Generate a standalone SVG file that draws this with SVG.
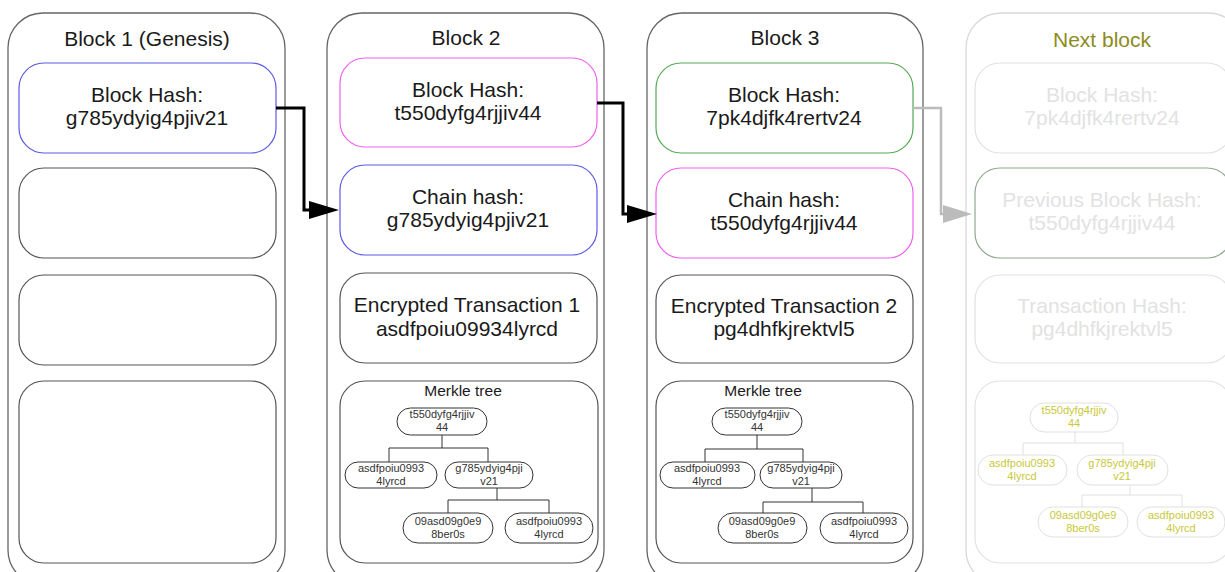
<svg xmlns="http://www.w3.org/2000/svg" width="1225" height="572" viewBox="0 0 1225 572">
<defs>
<style>
text{font-family:"Liberation Sans",Arial,sans-serif;text-anchor:middle;fill:#1a1a1a}
.outer{fill:#fff;stroke:#666;stroke-width:1.3}
.box{fill:#fff;stroke:#555;stroke-width:1.2}
.t{font-size:21px}
.et{font-size:21px}
.mt{font-size:15.5px}
.n{font-size:11px;fill:#333}
.node{fill:#fff;stroke:#333;stroke-width:1}
.tl{fill:none;stroke:#333;stroke-width:1}
.blue{stroke:#5a5ae6}
.mag{stroke:#f060f0}
.green{stroke:#55aa55}
.g-outer{fill:#fff;stroke:#d9d9d9;stroke-width:1.3}
.g-box{fill:#fff;stroke:#e2e2e2;stroke-width:1.2}
.g-t{fill:#e2e2e2}
.g-node{fill:#fff;stroke:#e0e0e0;stroke-width:1}
.g-tl{fill:none;stroke:#e0e0e0;stroke-width:1}
.y{font-size:11px;fill:#c8c83a}
.conn{fill:none;stroke:#000;stroke-width:3}
.conn-g{fill:none;stroke:#bbb;stroke-width:2.5}
</style>
<marker id="ah" markerUnits="userSpaceOnUse" markerWidth="32" markerHeight="20" refX="0" refY="9" orient="auto"><path d="M0,0 L30,9 L0,18 z" fill="#000"/></marker>
<marker id="ahg" markerUnits="userSpaceOnUse" markerWidth="32" markerHeight="20" refX="0" refY="9" orient="auto"><path d="M0,0 L29,9 L0,18 z" fill="#bbb"/></marker>
</defs>
<rect width="1225" height="572" fill="#fff"/>

<g id="block1">
<rect class="outer" x="8" y="13" width="277" height="572" rx="35"/>
<text class="t" x="147" y="46">Block 1 (Genesis)</text>
<g id="b1-hash"><rect class="box blue" x="19" y="63" width="257" height="90" rx="25"/>
<text class="t" x="147" y="102">Block Hash:</text><text class="t" x="147" y="125">g785ydyig4pjiv21</text></g>
<rect class="box" x="19" y="168" width="257" height="90" rx="25"/>
<rect class="box" x="19" y="275" width="257" height="90" rx="25"/>
<rect class="box" x="19" y="381" width="257" height="182" rx="25"/>
</g>

<g id="block2">
<rect class="outer" x="327" y="13" width="277" height="572" rx="35"/>
<text class="t" x="466" y="45">Block 2</text>
<g id="b2-hash"><rect class="box mag" x="340" y="58" width="257" height="89" rx="25"/>
<text class="t" x="468" y="97">Block Hash:</text><text class="t" x="468" y="120">t550dyfg4rjjiv44</text></g>
<g id="b2-chain"><rect class="box blue" x="340" y="165" width="257" height="90" rx="25"/>
<text class="t" x="468" y="204">Chain hash:</text><text class="t" x="468" y="227">g785ydyig4pjiv21</text></g>
<g id="b2-tx"><rect class="box" x="340" y="273" width="257" height="90" rx="25"/>
<text class="et" x="467" y="312">Encrypted Transaction 1</text><text class="et" x="467" y="336">asdfpoiu09934lyrcd</text></g>
<g id="b2-merkle"><rect class="box" x="340" y="381" width="258" height="182" rx="25"/>
<text class="mt" x="463" y="396">Merkle tree</text>
<path class="tl" d="M442,435 V448 M389,448 H488 M389,448 V462 M488,448 V462 M497,488 V500 M448,500 H549 M448,500 V513 M549,500 V513"/>
<rect class="node" x="397" y="408" width="90" height="27" rx="13.5"/>
<text class="n" x="442" y="418">t550dyfg4rjjiv</text><text class="n" x="442" y="431">44</text>
<rect class="node" x="345" y="462" width="92" height="26" rx="13"/>
<text class="n" x="391" y="472">asdfpoiu0993</text><text class="n" x="391" y="485">4lyrcd</text>
<rect class="node" x="445" y="462" width="88" height="26" rx="13"/>
<text class="n" x="489" y="472">g785ydyig4pji</text><text class="n" x="489" y="485">v21</text>
<rect class="node" x="403" y="513" width="90" height="30" rx="15"/>
<text class="n" x="448" y="525">09asd09g0e9</text><text class="n" x="448" y="538">8ber0s</text>
<rect class="node" x="505" y="513" width="88" height="30" rx="15"/>
<text class="n" x="549" y="525">asdfpoiu0993</text><text class="n" x="549" y="538">4lyrcd</text>
</g>
</g>

<g id="block3">
<rect class="outer" x="647" y="13" width="276" height="572" rx="35"/>
<text class="t" x="785" y="45">Block 3</text>
<g id="b3-hash"><rect class="box green" x="656" y="63" width="257" height="90" rx="25"/>
<text class="t" x="784" y="102">Block Hash:</text><text class="t" x="784" y="125">7pk4djfk4rertv24</text></g>
<g id="b3-chain"><rect class="box mag" x="656" y="168" width="257" height="90" rx="25"/>
<text class="t" x="784" y="207">Chain hash:</text><text class="t" x="784" y="230">t550dyfg4rjjiv44</text></g>
<g id="b3-tx"><rect class="box" x="656" y="275" width="257" height="88" rx="25"/>
<text class="et" x="784" y="313">Encrypted Transaction 2</text><text class="et" x="784" y="336">pg4dhfkjrektvl5</text></g>
<g id="b3-merkle"><rect class="box" x="656" y="381" width="257" height="182" rx="25"/>
<text class="mt" x="763" y="396">Merkle tree</text>
<path class="tl" d="M757,435 V449 M705,449 H803 M705,449 V462 M803,449 V462 M812,488 V502 M763,502 H863 M763,502 V513 M863,502 V513"/>
<rect class="node" x="712" y="408" width="90" height="27" rx="13.5"/>
<text class="n" x="757" y="418">t550dyfg4rjjiv</text><text class="n" x="757" y="431">44</text>
<rect class="node" x="660" y="462" width="95" height="26" rx="13"/>
<text class="n" x="707" y="472">asdfpoiu0993</text><text class="n" x="707" y="485">4lyrcd</text>
<rect class="node" x="760" y="462" width="82" height="26" rx="13"/>
<text class="n" x="801" y="472">g785ydyig4pji</text><text class="n" x="801" y="485">v21</text>
<rect class="node" x="718" y="513" width="89" height="30" rx="15"/>
<text class="n" x="762" y="525">09asd09g0e9</text><text class="n" x="762" y="538">8ber0s</text>
<rect class="node" x="820" y="513" width="88" height="30" rx="15"/>
<text class="n" x="864" y="525">asdfpoiu0993</text><text class="n" x="864" y="538">4lyrcd</text>
</g>
</g>

<g id="next-block">
<rect class="g-outer" x="966" y="13" width="277" height="572" rx="35"/>
<text class="t" x="1102" y="47" style="fill:#8c8c1e">Next block</text>
<g id="nb-hash"><rect class="g-box" x="975" y="63" width="257" height="90" rx="25"/>
<text class="t g-t" x="1102" y="102">Block Hash:</text><text class="t g-t" x="1102" y="125">7pk4djfk4rertv24</text></g>
<g id="nb-prev"><rect class="g-box" style="stroke:#8fa88f" x="975" y="168" width="257" height="90" rx="25"/>
<text class="t g-t" x="1102" y="207">Previous Block Hash:</text><text class="t g-t" x="1102" y="230">t550dyfg4rjjiv44</text></g>
<g id="nb-tx"><rect class="g-box" x="975" y="275" width="257" height="88" rx="25"/>
<text class="t g-t" x="1102" y="313">Transaction Hash:</text><text class="t g-t" x="1102" y="336">pg4dhfkjrektvl5</text></g>
<g id="nb-merkle"><rect class="g-box" x="975" y="381" width="257" height="182" rx="25"/>
<path class="g-tl" d="M1075,432 V443 M1023,443 H1123 M1023,443 V455 M1123,443 V455 M1130,485 V495 M1082,495 H1182 M1082,495 V507 M1182,495 V507"/>
<rect class="g-node" x="1030" y="403" width="88" height="29" rx="14.5"/>
<text class="y" x="1074" y="414">t550dyfg4rjjiv</text><text class="y" x="1074" y="427">44</text>
<rect class="g-node" x="978" y="455" width="89" height="30" rx="15"/>
<text class="y" x="1022" y="467">asdfpoiu0993</text><text class="y" x="1022" y="480">4lyrcd</text>
<rect class="g-node" x="1077" y="455" width="91" height="30" rx="15"/>
<text class="y" x="1122" y="467">g785ydyig4pji</text><text class="y" x="1122" y="480">v21</text>
<rect class="g-node" x="1038" y="507" width="90" height="30" rx="15"/>
<text class="y" x="1083" y="519">09asd09g0e9</text><text class="y" x="1083" y="532">8ber0s</text>
<rect class="g-node" x="1137" y="507" width="88" height="30" rx="15"/>
<text class="y" x="1181" y="519">asdfpoiu0993</text><text class="y" x="1181" y="532">4lyrcd</text>
</g>
</g>

<g id="connectors">
<path class="conn" d="M276,108 H304 V210 H309" marker-end="url(#ah)"/>
<path class="conn" d="M597,103 H623 V214 H627" marker-end="url(#ah)"/>
<path class="conn-g" d="M913,108 H941 V214 H943" marker-end="url(#ahg)"/>
</g>
</svg>
